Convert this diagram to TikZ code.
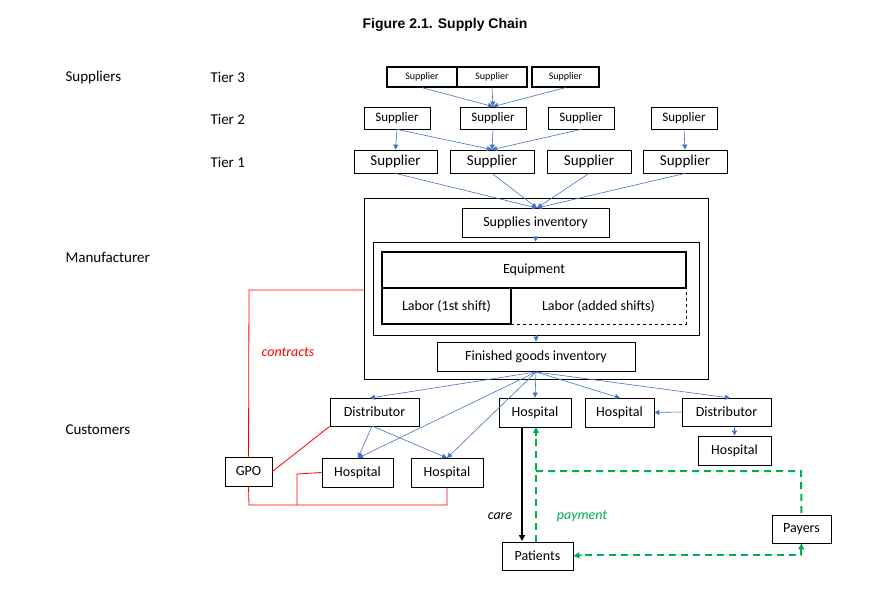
\documentclass[tikz,border=0pt]{standalone}
\usepackage{fontspec}
\setmainfont{Carlito}
\newfontfamily\titlefont{Liberation Sans}
\usetikzlibrary{arrows.meta}
\definecolor{ab}{RGB}{68,114,196}
\definecolor{gr}{RGB}{0,176,80}
\begin{document}
\begin{tikzpicture}[x=1pt,y=-1pt,
 bx/.style={draw,thick,inner sep=0,font=\fontsize{13}{13}\selectfont},
 sm/.style={draw,very thick,inner sep=0,font=\fontsize{10}{10}\selectfont},
 lab/.style={anchor=west,font=\fontsize{15}{15}\selectfont},
 ar/.style={draw=ab,-{Triangle[width=5pt,length=5pt]},line width=0.6pt},
 rd/.style={draw=red,line width=0.8pt},
 gd/.style={draw=gr,line width=2pt,dash pattern=on 7pt off 5pt}]
\useasboundingbox (0,0) rectangle (893,609);
\newcommand\bb[6][bx]{\node[#1,minimum width=#4-#3,minimum height=#6-#5] (#2) at ({(#3+#4)/2},{(#5+#6)/2})}
\node[font=\titlefont\bfseries\fontsize{14}{14}\selectfont] (title) at (445,25) {Figure 2.1. Supply Chain};
\node[lab] (ls) at (62,78) {Suppliers};
\node[lab] (lm) at (62,257) {Manufacturer};
\node[lab] (lc) at (62,430) {Customers};
\node[lab] (t3) at (207,77) {Tier 3};
\node[lab] (t2) at (207,119) {Tier 2};
\node[lab] (t1) at (207,162) {Tier 1};
\bb[sm]{a1}{387}{457}{67}{87}{Supplier};
\bb[sm]{a2}{457}{527}{67}{87}{Supplier};
\bb[sm]{a3}{532}{599}{67}{87}{Supplier};
\bb{b1}{364}{430}{107}{129}{Supplier};
\bb{b2}{460}{526}{107}{129}{Supplier};
\bb{b3}{548}{614}{107}{129}{Supplier};
\bb{b4}{651}{717}{107}{129}{Supplier};
\bb[bx,font=\fontsize{15}{15}\selectfont]{c1}{354}{437}{150}{173}{Supplier};
\bb[bx,font=\fontsize{15}{15}\selectfont]{c2}{450}{534}{150}{173}{Supplier};
\bb[bx,font=\fontsize{15}{15}\selectfont]{c3}{547}{631}{150}{173}{Supplier};
\bb[bx,font=\fontsize{15}{15}\selectfont]{c4}{643}{727}{150}{173}{Supplier};
\bb{man}{364}{708}{198}{379}{};
\bb[bx,font=\fontsize{14}{14}\selectfont]{si}{462}{609}{208}{237}{Supplies inventory};
\bb{inner}{373}{699}{242}{335}{};
\bb[draw,line width=1.6pt,font=\fontsize{14}{14}\selectfont]{eq}{382}{686}{252}{288}{Equipment};
\bb[draw,line width=1.6pt,font=\fontsize{14}{14}\selectfont]{l1}{382}{511}{288}{324}{Labor (1st shift)};
\bb[draw,dashed,thick,font=\fontsize{14}{14}\selectfont]{l2}{511}{686}{288}{324}{Labor (added shifts)};
\bb[bx,font=\fontsize{14}{14}\selectfont]{fg}{437}{635}{342}{371}{Finished goods inventory};
\bb[bx,font=\fontsize{14}{14}\selectfont]{d1}{330}{419}{398}{426}{Distributor};
\bb[bx,font=\fontsize{14}{14}\selectfont]{h0}{499}{571}{398}{427}{Hospital};
\bb[bx,font=\fontsize{14}{14}\selectfont]{h1}{585}{654}{398}{427}{Hospital};
\bb[bx,font=\fontsize{14}{14}\selectfont]{d2}{682}{771}{398}{426}{Distributor};
\bb[bx,font=\fontsize{14}{14}\selectfont]{h2}{698}{771}{436}{465}{Hospital};
\bb[bx,font=\fontsize{14}{14}\selectfont]{gpo}{225}{272}{457}{486}{GPO};
\bb[bx,font=\fontsize{14}{14}\selectfont]{h3}{322}{393}{458}{487}{Hospital};
\bb[bx,font=\fontsize{14}{14}\selectfont]{h4}{411}{483}{458}{487}{Hospital};
\bb[bx,font=\fontsize{14}{14}\selectfont]{pat}{502}{573}{542}{570}{Patients};
\bb[bx,font=\fontsize{14}{14}\selectfont]{pay}{772}{831}{515}{543}{Payers};
% supplier arrows
\foreach \s in {a1,a2,a3} \draw[ar] (\s.south) -- (b2.north);
\draw[ar] (b1.south) -- (c1.north);
\draw[ar] (b1.south) -- (c2.north);
\draw[ar] (b2.south) -- (c2.north);
\draw[ar] (b3.south) -- (c2.north);
\draw[ar] (b4.south) -- (c4.north);
\coordinate (sit) at (537,208);
\foreach \s in {c1,c2,c3,c4} \draw[ar] (\s.south) -- (sit);
\draw[ar] (si) -- (inner);
\draw[ar] (inner) -- (fg);
% customers
\coordinate (fo) at (536,372);
\draw[ar] (fo) -- (370,398);
\draw[ar] (fo) -- (h0.north);
\draw[ar] (fo) -- (620,398);
\draw[ar] (fo) -- (730,398);
\draw[ar] (fo) -- (358,458);
\draw[ar] (fo) -- (447,458);
\draw[ar] (372,426) -- (358,458);
\draw[ar] (372,426) -- (447,458);
\draw[ar] (d2.south -| h2.north) -- (h2.north);
\draw[ar] (d2.west) -- (h1.east);
% red
\draw[rd] (man.west |- 0,290) -- (249,290) -- (gpo.north);
\draw[rd] (gpo.east) -- (d1.south west);
\draw[rd] (gpo.south) -- (249,505) -- (447,505) -- (h4.south);
\draw[rd] (297,505) -- (297,474) -- (h3.west);
\node[text=red,font=\itshape\fontsize{14}{14}\selectfont] (ct) at (288,352) {contracts};
% care
\draw[line width=1.6pt,-{Triangle[width=6pt,length=6pt]}] (522,427) -- (522,541);
\node[font=\itshape\fontsize{14}{14}\selectfont] (care) at (500,516) {care};
\node[text=gr,font=\itshape\fontsize{14}{14}\selectfont] (pm) at (582,516) {payment};
% payment
\draw[gd] (pat.north -| 536,0) -- (536,431);
\draw[gr,-{Triangle[width=6pt,length=6pt]},line width=1.2pt] (536,436) -- (536,427);
\draw[gd] (536,471) -- (801,471) -- (pay.north);
\draw[gd] (801,548) -- (801,555) -- (580,555);
\draw[gr,-{Triangle[width=6pt,length=6pt]},line width=1.2pt] (582,555) -- (pat.east);
\draw[gr,-{Triangle[width=6pt,length=6pt]},line width=1.2pt] (801,552) -- (pay.south);
\end{tikzpicture}
\end{document}
